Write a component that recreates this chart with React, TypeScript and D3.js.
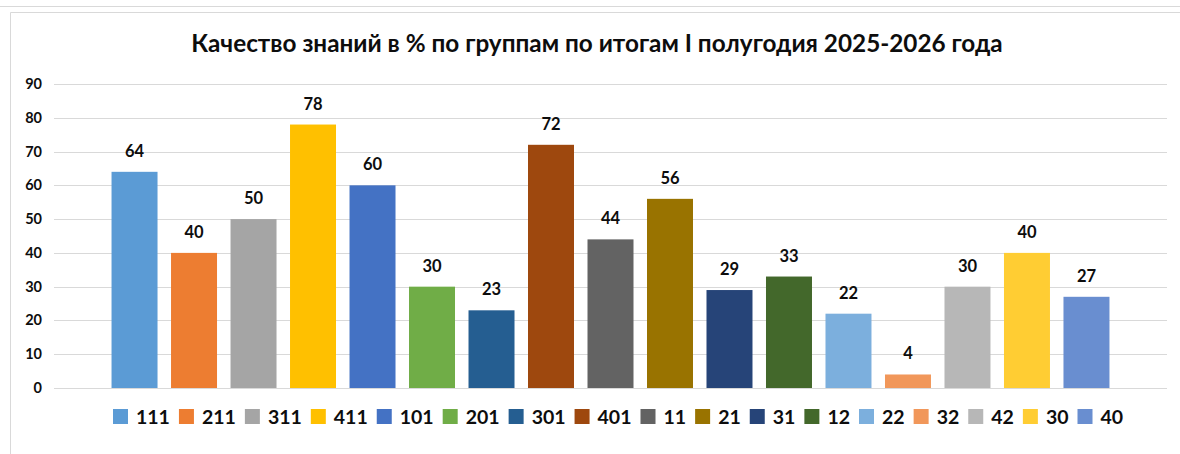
import React, { useEffect, useRef } from "react";
import * as d3 from "d3";

const TITLE = "Качество знаний в % по группам по итогам I полугодия 2025-2026 года";
const groups = ["111", "211", "311", "411", "101", "201", "301", "401", "11", "21", "31", "12", "22", "32", "42", "30", "40"];
const values = [64, 40, 50, 78, 60, 30, 23, 72, 44, 56, 29, 33, 22, 4, 30, 40, 27];
const colors = ["#5B9BD5", "#ED7D31", "#A5A5A5", "#FFC000", "#4472C4", "#70AD47", "#255E91", "#9E480E", "#636363", "#997300", "#264478", "#43682B", "#7CAFDD", "#F1975A", "#B7B7B7", "#FFCD33", "#698ED0"];
const yTicks = [0, 10, 20, 30, 40, 50, 60, 70, 80, 90];

const W = 1180;
const H = 454;
const FONT = "Lato, 'Open Sans', sans-serif";
const TEXT = "#0d0d0d";

export default function App() {
  const ref = useRef<SVGSVGElement | null>(null);

  useEffect(() => {
    const svg = d3.select(ref.current);
    svg.selectAll("*").remove();

    // frame lines
    svg.append("line").attr("x1", 0).attr("x2", W).attr("y1", 6.5).attr("y2", 6.5).attr("stroke", "#d9d9d9");
    svg.append("line").attr("x1", 10.5).attr("x2", W).attr("y1", 12.5).attr("y2", 12.5).attr("stroke", "#d9d9d9");
    svg.append("line").attr("x1", 10.5).attr("x2", 10.5).attr("y1", 12.5).attr("y2", H).attr("stroke", "#d9d9d9");

    const x0 = 54, x1 = 1167;
    const y = d3.scaleLinear().domain([0, 90]).range([388, 84]);
    const x = d3.scaleBand<string>().domain(groups).range([x0, x1]).paddingInner(0.227).paddingOuter(0.967);

    svg.append("text")
      .attr("x", 597).attr("y", 52)
      .attr("text-anchor", "middle")
      .attr("font-family", FONT).attr("font-weight", 700).attr("font-size", 24.3)
      .attr("fill", TEXT)
      .text(TITLE);

    const g = svg.append("g");
    g.selectAll("line.grid").data(yTicks).join("line")
      .attr("class", "grid")
      .attr("x1", x0).attr("x2", x1)
      .attr("y1", (d) => Math.round(y(d)) + 0.5).attr("y2", (d) => Math.round(y(d)) + 0.5)
      .attr("stroke", "#d9d9d9");

    g.selectAll("text.tick").data(yTicks).join("text")
      .attr("class", "tick")
      .attr("x", 42).attr("y", (d) => y(d) + 5)
      .attr("text-anchor", "end")
      .attr("font-family", FONT).attr("font-weight", 700).attr("font-size", 14.5)
      .attr("fill", TEXT)
      .text((d) => String(d));

    const data = groups.map((k, i) => ({ k, v: values[i], c: colors[i] }));
    g.selectAll("rect.bar").data(data).join("rect")
      .attr("class", "bar")
      .attr("x", (d) => x(d.k)!)
      .attr("width", x.bandwidth())
      .attr("y", (d) => y(d.v))
      .attr("height", (d) => y(0) - y(d.v))
      .attr("fill", (d) => d.c);

    g.selectAll("text.val").data(data).join("text")
      .attr("class", "val")
      .attr("x", (d) => x(d.k)! + x.bandwidth() / 2)
      .attr("y", (d) => y(d.v) - 15)
      .attr("text-anchor", "middle")
      .attr("font-family", FONT).attr("font-weight", 700).attr("font-size", 16.5)
      .attr("fill", TEXT)
      .text((d) => String(d.v));

    // legend
    const lg = svg.append("g");
    let cx = 113;
    const sq = 15;
    const ly = 409;
    data.forEach((d) => {
      lg.append("rect").attr("x", cx).attr("y", ly).attr("width", sq).attr("height", sq).attr("fill", d.c);
      const t = lg.append("text")
        .attr("x", cx + sq + 8).attr("y", ly + 15)
        .attr("font-family", FONT).attr("font-weight", 700).attr("font-size", 19.5)
        .attr("fill", TEXT)
        .text(d.k);
      const tw = (t.node() as SVGTextElement).getComputedTextLength();
      cx += sq + 8 + tw + 9;
    });
  }, []);

  return (
    <svg
      ref={ref}
      width={W}
      height={H}
      style={{ position: "absolute", left: 0, top: 0, background: "#fff" }}
    />
  );
}
